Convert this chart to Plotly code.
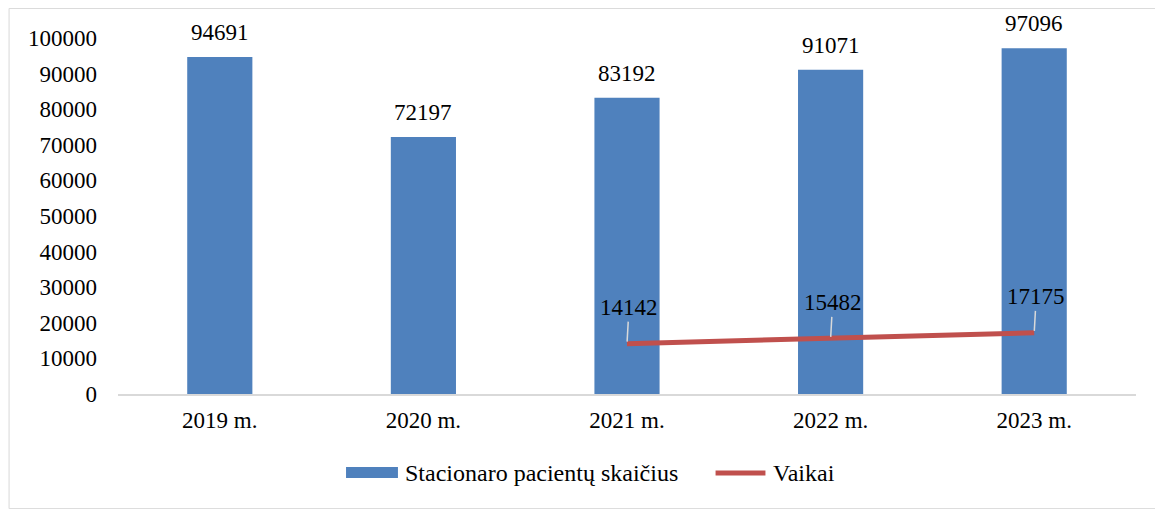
import plotly.graph_objects as go

years = ["2019 m.", "2020 m.", "2021 m.", "2022 m.", "2023 m."]
patients = [94691, 72197, 83192, 91071, 97096]
child_years = ["2021 m.", "2022 m.", "2023 m."]
children = [14142, 15482, 17175]

bar_name = "Stacionaro pacientų skaičius"
line_name = "Vaikai"

bar_color = "#4F81BD"
line_color = "#C0504D"
font_family = "Liberation Serif"
text_font = dict(size=23, color="black", family=font_family)
legend_font = dict(size=24, color="black", family=font_family)

fig = go.Figure()

fig.add_trace(go.Bar(
    x=years, y=patients,
    name=bar_name,
    marker=dict(color=bar_color, line=dict(width=0)),
    width=0.32,
    showlegend=False,
))

fig.add_trace(go.Scatter(
    x=child_years, y=children,
    name=line_name,
    mode="lines",
    line=dict(color=line_color, width=5),
    showlegend=False,
))

# bar value labels
for yr, val in zip(years, patients):
    fig.add_annotation(
        x=yr, y=val, text=str(val), showarrow=False,
        yanchor="bottom", yshift=10, font=text_font,
    )

# line value labels with leader lines
for yr, val in zip(child_years, children):
    fig.add_annotation(
        x=yr, y=val, text=str(val), showarrow=True,
        arrowhead=0, arrowwidth=1.5, arrowcolor="#D9D9D9",
        ax=2, ay=-36, standoff=2, font=text_font,
    )

# legend drawn by hand (wide swatches like the original)
fig.add_shape(type="rect", xref="paper", yref="paper",
              x0=0.224, x1=0.275, y0=-0.236, y1=-0.205,
              fillcolor=bar_color, line=dict(width=0))
fig.add_annotation(xref="paper", yref="paper", x=0.280, y=-0.222,
                   xanchor="left", yanchor="middle", showarrow=False,
                   text=bar_name, font=legend_font)
fig.add_shape(type="line", xref="paper", yref="paper",
              x0=0.587, x1=0.636, y0=-0.222, y1=-0.222,
              line=dict(color=line_color, width=5))
fig.add_annotation(xref="paper", yref="paper", x=0.641, y=-0.222,
                   xanchor="left", yanchor="middle", showarrow=False,
                   text=line_name, font=legend_font)

# outer chart frame (right edge falls outside the page)
fig.add_shape(
    type="rect", xref="paper", yref="paper",
    x0=-0.107, x1=1.2, y0=-0.322, y1=1.083,
    line=dict(color="#D9D9D9", width=1),
    fillcolor="rgba(0,0,0,0)", layer="below",
)

fig.update_layout(
    width=1155, height=501,
    margin=dict(l=110, r=27, t=30, b=115),
    paper_bgcolor="white", plot_bgcolor="white",
    font=dict(family=font_family, size=23, color="black"),
    showlegend=False,
    xaxis=dict(
        showgrid=False, showline=True, linecolor="#D9D9D9", linewidth=1.5,
        ticks="", ticklabelstandoff=5,
    ),
    yaxis=dict(
        range=[0, 100000], dtick=10000, showgrid=False, zeroline=False,
        showline=False, ticks="", ticklabelstandoff=20,
        tickformat="d",
    ),
    bargap=0.68,
)

fig.write_html("out.html")
